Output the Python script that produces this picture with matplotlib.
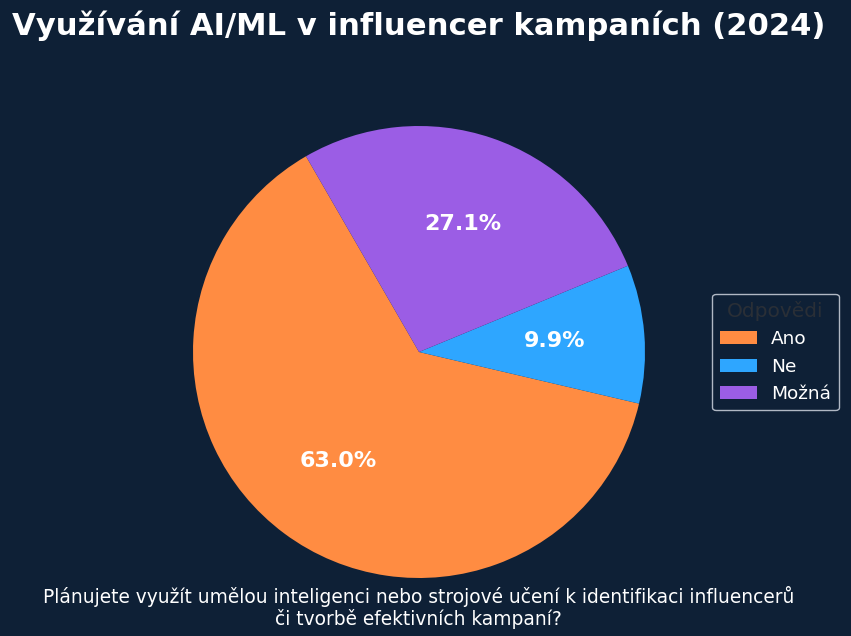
import matplotlib.pyplot as plt

# Survey answers (share in %)
labels = ['Ano', 'Ne', 'Možná']
values = [63.0, 9.9, 27.1]
colors = ['#ff8c42', '#2ea6ff', '#9b5de5']

bg = '#0e2036'

fig = plt.figure(figsize=(8.51, 6.36), dpi=100, facecolor=bg)
ax = fig.add_axes([(419 - 226) / 851, (636 - 352 - 226) / 636, 452 / 851, 452 / 636])
ax.set_facecolor(bg)

wedges, texts, autotexts = ax.pie(values, colors=colors, startangle=120,
                                  autopct='%1.1f%%', pctdistance=0.6,
                                  textprops={'color': 'white', 'fontsize': 16, 'fontweight': 'bold'})
ax.set_xlim(-1, 1)
ax.set_ylim(-1, 1)
ax.set_aspect('equal')

fig.text(0.492, 0.96, 'Využívání AI/ML v influencer kampaních (2024)',
         ha='center', va='center', color='white', fontsize=22.1, fontweight='bold')
fig.text(0.492, 0.045, 'Plánujete využít umělou inteligenci nebo strojové učení k identifikaci influencerů\nči tvorbě efektivních kampaní?',
         ha='center', va='center', color='white', fontsize=13.4, linespacing=1.1)

leg = fig.legend(wedges, labels, title='Odpovědi', loc='center left',
                 bbox_to_anchor=(703 / 851, 1 - 352 / 636), fontsize=13.3, title_fontsize=14.5,
                 facecolor=bg, edgecolor='#b0b8c4', labelcolor='white', framealpha=1)
leg.get_title().set_color('#2a2f36')

plt.savefig('out.png', facecolor=bg)
